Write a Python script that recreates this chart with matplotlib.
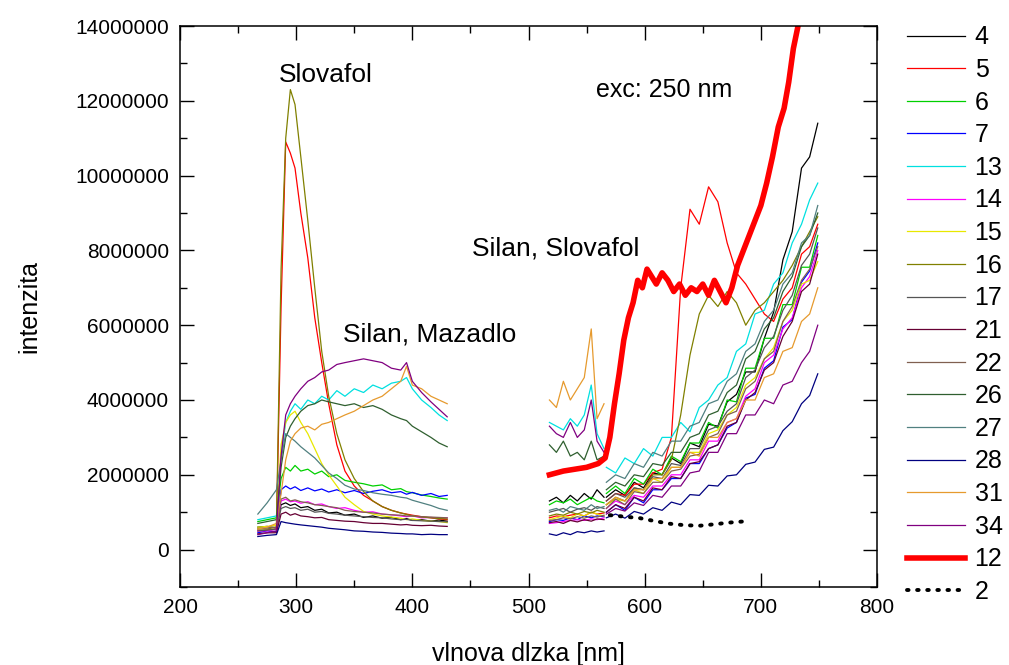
import matplotlib.pyplot as plt
import numpy as np
from matplotlib.ticker import MultipleLocator, FuncFormatter

plt.rcParams['font.family'] = ['Liberation Sans', 'DejaVu Sans']

# wavelength grids [nm] for the three measured ranges
xa = [267, 275, 283, 287, 291, 295, 299, 304, 310, 316, 322, 328, 335,
      342, 350, 358, 366, 374, 382, 390, 395, 400, 408, 416, 423, 430]
xb = [518, 524, 530, 536, 542, 548, 554, 559, 565]
xc = [567, 575, 583, 591, 599, 607, 615, 623, 631, 639, 647, 655,
      663, 671, 679, 687, 695, 703, 711, 719, 727, 735, 742, 749]

# intensities in millions
s4a = [0.6, 0.62, 0.58, 1.2, 1.25, 1.18, 1.22, 1.12, 1.15, 1.05, 1.08, 0.98, 1.0,
       0.92, 0.95, 0.86, 0.9, 0.84, 0.86, 0.8, 0.83, 0.78, 0.8, 0.76, 0.79, 0.76]
s4b = [1.3, 1.4, 1.25, 1.45, 1.3, 1.5, 1.35, 1.6, 1.4]
s4c = [1.4, 1.6, 1.45, 1.8, 1.65, 2.05, 2.0, 2.45, 2.3, 2.85, 2.75, 3.35, 3.3, 3.95,
       4.15, 4.75, 4.75, 5.65, 6.35, 7.75, 8.5, 10.2, 10.5, 11.4]

s5a = [0.5, 0.52, 0.55, 6.5, 10.9, 10.6, 10.2, 9.0, 7.8, 6.2, 5.0, 3.9, 2.8,
       2.1, 1.7, 1.45, 1.3, 1.15, 1.05, 0.98, 0.95, 0.92, 0.88, 0.85, 0.82, 0.8]
s5b = [0.85, 0.9, 0.88, 0.92, 0.95, 0.9, 1.0, 0.95, 0.98]
s5c = [1.3, 1.5, 1.45, 1.75, 1.75, 2.05, 2.15, 3.0, 7.0, 9.1, 8.7, 9.7, 9.3, 8.2,
       7.4, 7.1, 6.7, 6.3, 6.1, 6.7, 7.0, 7.9, 8.1, 8.7]

s6a = [0.75, 0.8, 0.85, 1.9, 2.2, 2.1, 2.25, 2.1, 2.15, 2.02, 2.1, 1.95, 2.0,
       1.85, 1.8, 1.76, 1.7, 1.73, 1.6, 1.63, 1.55, 1.52, 1.46, 1.42, 1.38, 1.35]
s6b = [1.2, 1.3, 1.25, 1.35, 1.2, 1.3, 1.4, 1.3, 1.25]
s6c = [1.5, 1.7, 1.5, 1.9, 1.75, 2.15, 2.0, 2.5, 2.35, 2.85, 2.85, 3.4, 3.25, 4.0,
       3.95, 4.85, 4.85, 5.65, 5.65, 6.55, 6.55, 7.55, 7.55, 8.4]

s7a = [0.45, 0.5, 0.48, 1.6, 1.7, 1.62, 1.68, 1.58, 1.65, 1.57, 1.62, 1.54, 1.6,
       1.52, 1.58, 1.5, 1.56, 1.6, 1.52, 1.55, 1.48, 1.53, 1.45, 1.5, 1.42, 1.45]
s7b = [0.75, 0.8, 0.78, 0.85, 0.8, 0.9, 0.85, 0.9, 0.88]
s7c = [1.0, 1.2, 1.05, 1.4, 1.25, 1.6, 1.6, 1.9, 1.9, 2.3, 2.3, 2.7, 2.8,
       3.25, 3.4, 4.05, 4.15, 4.85, 5.05, 5.95, 6.15, 7.15, 7.45, 8.2]

s13a = [0.8, 0.85, 0.9, 2.5, 3.4, 3.7, 3.9, 3.75, 4.0, 3.9, 4.1, 4.0, 4.25,
        4.1, 4.3, 4.2, 4.4, 4.3, 4.45, 4.5, 4.6, 4.3, 4.0, 3.8, 3.6, 3.45]
s13b = [3.4, 3.3, 3.2, 3.5, 3.3, 3.6, 4.4, 3.1, 2.7]
s13c = [2.2, 2.05, 2.45, 2.3, 2.7, 2.5, 3.0, 3.0, 3.4, 3.15, 3.8, 4.0, 4.4,
        4.6, 5.3, 5.5, 6.3, 6.4, 7.1, 7.4, 8.2, 8.7, 9.35, 9.8]

s14a = [0.5, 0.5, 0.55, 1.3, 1.35, 1.28, 1.3, 1.24, 1.28, 1.2, 1.22, 1.15, 1.1,
        1.12, 1.05, 1.0, 1.01, 0.95, 0.93, 0.9, 0.88, 0.9, 0.85, 0.86, 0.84, 0.85]
s14b = [0.7, 0.72, 0.75, 0.78, 0.8, 0.78, 0.82, 0.8, 0.85]
s14c = [1.1, 1.3, 1.2, 1.45, 1.4, 1.7, 1.7, 2.0, 2.0, 2.4, 2.4, 2.9, 2.9,
        3.4, 3.5, 4.1, 4.3, 5.0, 5.2, 5.9, 6.2, 7.0, 7.3, 8.0]

s15a = [0.6, 0.62, 0.65, 2.8, 3.4, 3.6, 3.7, 3.4, 3.1, 2.7, 2.3, 2.0, 1.7,
        1.4, 1.2, 1.02, 0.95, 0.9, 0.87, 0.84, 0.8, 0.82, 0.78, 0.76, 0.75, 0.72]
s15b = [0.8, 0.85, 0.9, 0.85, 0.95, 0.9, 1.0, 0.95, 0.9]
s15c = [1.2, 1.35, 1.3, 1.6, 1.5, 1.9, 1.8, 2.2, 2.2, 2.6, 2.6, 3.1, 3.2,
        3.6, 3.8, 4.4, 4.6, 5.1, 5.4, 6.1, 6.4, 7.1, 7.2, 7.7]

s16a = [0.55, 0.55, 0.6, 7.5, 11.0, 12.3, 11.9, 10.5, 8.8, 7.0, 5.3, 4.1, 3.1,
        2.4, 1.9, 1.55, 1.3, 1.15, 1.05, 0.98, 0.94, 0.9, 0.87, 0.85, 0.83, 0.82]
s16b = [0.9, 0.95, 0.92, 1.0, 0.95, 1.02, 0.98, 1.05, 1.0]
s16c = [1.2, 1.4, 1.3, 1.65, 1.6, 2.0, 2.0, 2.4, 3.6, 5.2, 6.3, 6.8, 6.5, 6.9,
        6.6, 6.0, 6.4, 6.6, 6.9, 7.2, 7.6, 8.1, 8.5, 8.9]

s17a = [0.5, 0.52, 0.55, 1.1, 1.15, 1.1, 1.12, 1.05, 1.08, 1.0, 1.02, 0.97, 0.95,
        0.92, 0.9, 0.88, 0.86, 0.85, 0.82, 0.8, 0.81, 0.78, 0.77, 0.76, 0.75, 0.74]
s17b = [1.0, 1.05, 1.1, 1.0, 1.08, 1.12, 1.05, 1.15, 1.1]
s17c = [1.3, 1.5, 1.4, 1.65, 1.6, 1.95, 1.9, 2.3, 2.25, 2.7, 2.7, 3.2, 3.3,
        3.7, 3.9, 4.6, 4.8, 5.4, 5.7, 6.4, 6.8, 7.6, 7.9, 8.6]

s21a = [0.42, 0.45, 0.45, 0.95, 1.0, 0.92, 0.96, 0.9, 0.88, 0.85, 0.86, 0.8, 0.78,
        0.76, 0.75, 0.72, 0.7, 0.7, 0.68, 0.66, 0.67, 0.65, 0.64, 0.65, 0.63, 0.62]
s21b = [0.72, 0.75, 0.7, 0.78, 0.74, 0.8, 0.76, 0.82, 0.8]
s21c = [1.0, 1.2, 1.1, 1.4, 1.3, 1.65, 1.6, 1.95, 1.9, 2.3, 2.35, 2.7, 2.8,
        3.3, 3.4, 4.0, 4.2, 4.8, 5.0, 5.7, 6.1, 6.9, 7.1, 7.9]

s22a = [0.55, 0.58, 0.6, 1.35, 1.4, 1.3, 1.33, 1.28, 1.25, 1.2, 1.18, 1.15, 1.12,
        1.05, 1.02, 1.0, 0.98, 0.95, 0.93, 0.92, 0.9, 0.9, 0.88, 0.87, 0.86, 0.85]
s22b = [0.78, 0.8, 0.85, 0.82, 0.88, 0.84, 0.9, 0.87, 0.92]
s22c = [1.1, 1.35, 1.2, 1.55, 1.5, 1.8, 1.8, 2.1, 2.15, 2.5, 2.55, 3.0, 3.1,
        3.6, 3.7, 4.3, 4.5, 5.1, 5.3, 6.1, 6.5, 7.2, 7.5, 8.1]

s26a = [0.7, 0.75, 0.8, 2.2, 3.0, 3.3, 3.5, 3.7, 3.85, 3.9, 4.0, 3.95, 3.9,
        3.85, 3.9, 3.8, 3.85, 3.75, 3.6, 3.5, 3.45, 3.3, 3.15, 3.0, 2.85, 2.75]
s26b = [2.8, 2.6, 2.9, 2.5, 2.6, 2.4, 2.9, 2.4, 2.5]
s26c = [1.6, 1.8, 1.7, 2.0, 1.95, 2.3, 2.25, 2.6, 2.6, 3.0, 3.1, 3.6, 3.7,
        4.2, 4.4, 5.1, 5.3, 5.9, 6.2, 6.9, 7.3, 8.1, 8.4, 9.0]

s27a = [0.95, 1.25, 1.6, 2.4, 3.1, 3.0, 2.9, 2.75, 2.6, 2.45, 2.25, 2.05, 1.9,
        1.72, 1.62, 1.58, 1.52, 1.48, 1.45, 1.4, 1.38, 1.32, 1.25, 1.18, 1.1, 1.05]
s27b = [1.05, 1.1, 1.0, 1.15, 1.1, 1.05, 1.2, 1.1, 1.15]
s27c = [1.8, 2.0, 1.9, 2.3, 2.2, 2.6, 2.5, 2.9, 2.9, 3.3, 3.4, 3.9, 4.0,
        4.5, 4.7, 5.3, 5.5, 6.1, 6.4, 7.1, 7.4, 8.2, 8.4, 9.2]

s28a = [0.35, 0.38, 0.4, 0.75, 0.72, 0.7, 0.68, 0.66, 0.64, 0.62, 0.6, 0.57, 0.55,
        0.53, 0.5, 0.49, 0.47, 0.46, 0.44, 0.43, 0.42, 0.42, 0.4, 0.41, 0.4, 0.4]
s28b = [0.42, 0.38, 0.45, 0.4, 0.48, 0.45, 0.5, 0.47, 0.5]
s28c = [0.85, 0.95, 0.84, 1.02, 0.95, 1.12, 1.05, 1.27, 1.2, 1.47, 1.45, 1.72, 1.7,
        1.97, 2.0, 2.28, 2.34, 2.68, 2.74, 3.18, 3.42, 3.9, 4.12, 4.7]

s31a = [0.55, 0.6, 0.7, 1.5, 2.4, 2.9, 3.1, 3.25, 3.3, 3.2, 3.35, 3.4, 3.5,
        3.6, 3.7, 3.85, 4.0, 4.1, 4.3, 4.5, 4.9, 4.4, 4.3, 4.1, 4.0, 3.9]
s31b = [4.0, 3.8, 4.5, 4.0, 4.3, 4.6, 5.9, 3.5, 3.9]
s31c = [1.2, 1.4, 1.3, 1.6, 1.6, 1.9, 1.9, 2.2, 2.2, 2.6, 2.5, 3.0, 3.0,
        3.4, 3.5, 4.0, 4.0, 4.6, 4.7, 5.3, 5.4, 6.1, 6.3, 7.0]

s34a = [0.4, 0.45, 0.5, 2.5, 3.6, 3.9, 4.1, 4.3, 4.5, 4.6, 4.75, 4.8, 4.95,
        5.0, 5.05, 5.1, 5.05, 5.0, 4.85, 4.8, 5.0, 4.5, 4.2, 3.95, 3.75, 3.55]
s34b = [3.3, 3.1, 3.0, 3.4, 3.0, 3.2, 4.0, 2.9, 2.6]
s34c = [0.95, 1.1, 1.03, 1.25, 1.18, 1.45, 1.4, 1.7, 1.7, 2.05, 2.1, 2.6, 2.6,
        3.1, 3.1, 3.6, 3.6, 4.0, 3.9, 4.4, 4.5, 5.0, 5.3, 6.0]

# sample 12 (thick red) and sample 2 (dotted)
x12 = [518, 530, 540, 550, 560, 566, 570, 574, 578, 582, 586, 590, 594, 598, 602,
       606, 610, 615, 620, 625, 630, 635, 640, 645, 650, 655, 660, 665, 670, 675,
       680, 685, 690, 695, 700, 705, 710, 715, 720, 724, 728, 732, 736, 740]
s12 = [2.0, 2.1, 2.15, 2.2, 2.3, 2.45, 3.0, 3.9, 4.7, 5.6, 6.2, 6.6, 7.2, 7.0, 7.5,
       7.3, 7.1, 7.4, 7.2, 6.9, 7.1, 6.8, 7.0, 6.9, 7.1, 6.8, 7.2, 6.9, 6.6, 7.0,
       7.6, 8.0, 8.4, 8.8, 9.2, 9.8, 10.5, 11.3, 11.8, 12.5, 13.4, 14.0, 14.5, 15.0]
x2 = [570, 583, 596, 609, 622, 635, 648, 661, 672, 684]
s2 = [0.92, 0.88, 0.84, 0.76, 0.69, 0.65, 0.64, 0.68, 0.72, 0.75]

labels = ['4', '5', '6', '7', '13', '14', '15', '16', '17', '21', '22', '26', '27', '28', '31', '34']
colors = ['#000000', '#ff0000', '#00d000', '#0000ff', '#00e0e0', '#ff00ff', '#e8e800',
          '#808000', '#555555', '#660033', '#806050', '#2f5f2f', '#508080', '#000080',
          '#e69a2e', '#800080']
series = [(s4a, s4b, s4c), (s5a, s5b, s5c), (s6a, s6b, s6c), (s7a, s7b, s7c),
          (s13a, s13b, s13c), (s14a, s14b, s14c), (s15a, s15b, s15c), (s16a, s16b, s16c),
          (s17a, s17b, s17c), (s21a, s21b, s21c), (s22a, s22b, s22c), (s26a, s26b, s26c),
          (s27a, s27b, s27c), (s28a, s28b, s28c), (s31a, s31b, s31c), (s34a, s34b, s34c)]

fig = plt.figure(figsize=(10.09, 6.65), dpi=100)
ax = fig.add_axes([0.1784, 0.1173, 0.6908, 0.8436])

for lab, col, (ya, yb, yc) in zip(labels, colors, series):
    ax.plot(xa, np.array(ya) * 1e6, color=col, lw=0.9, label=lab)
    ax.plot(xb, np.array(yb) * 1e6, color=col, lw=0.9)
    ax.plot(xc, np.array(yc) * 1e6, color=col, lw=0.9)

ax.plot(x12, np.array(s12) * 1e6, color='#ff0000', lw=4, label='12')
ax.plot(x2, np.array(s2) * 1e6, color='black', lw=2.8, linestyle=(0, (0.4, 2.2)),
        dash_capstyle='round', label='2')

ax.set_xlim(200, 800)
ax.set_ylim(-1e6, 14e6)
ax.xaxis.set_major_locator(MultipleLocator(100))
ax.xaxis.set_minor_locator(MultipleLocator(50))
ax.yaxis.set_major_locator(MultipleLocator(2e6))
ax.yaxis.set_minor_locator(MultipleLocator(1e6))
ax.yaxis.set_major_formatter(FuncFormatter(lambda v, p: '%d' % round(v)))
ax.tick_params(which='both', direction='in', top=True, right=True, labelsize=15, width=1)
ax.tick_params(which='major', length=10, pad=8)
ax.tick_params(which='minor', length=5)
for sp in ax.spines.values():
    sp.set_linewidth(1.1)

ax.set_xlabel('vlnova dlzka [nm]', fontsize=18, labelpad=18)
ax.set_ylabel('intenzita', fontsize=18, labelpad=24)

ax.text(325.7, 12.7e6, 'Slovafol', fontsize=19, ha='center', va='center')
ax.text(415, 5.74e6, 'Silan, Mazadlo', fontsize=19, ha='center', va='center')
ax.text(523, 8.06e6, 'Silan, Slovafol', fontsize=19, ha='center', va='center')
ax.text(616.6, 12.29e6, 'exc: 250 nm', fontsize=18, ha='center', va='center')

fig.legend(loc='upper left', bbox_to_anchor=(0.899, 0.962), frameon=False,
           fontsize=18, handlelength=2.3, handletextpad=0.4, labelspacing=0.345,
           borderpad=0, borderaxespad=0)

fig.savefig('out.png', dpi=100)
